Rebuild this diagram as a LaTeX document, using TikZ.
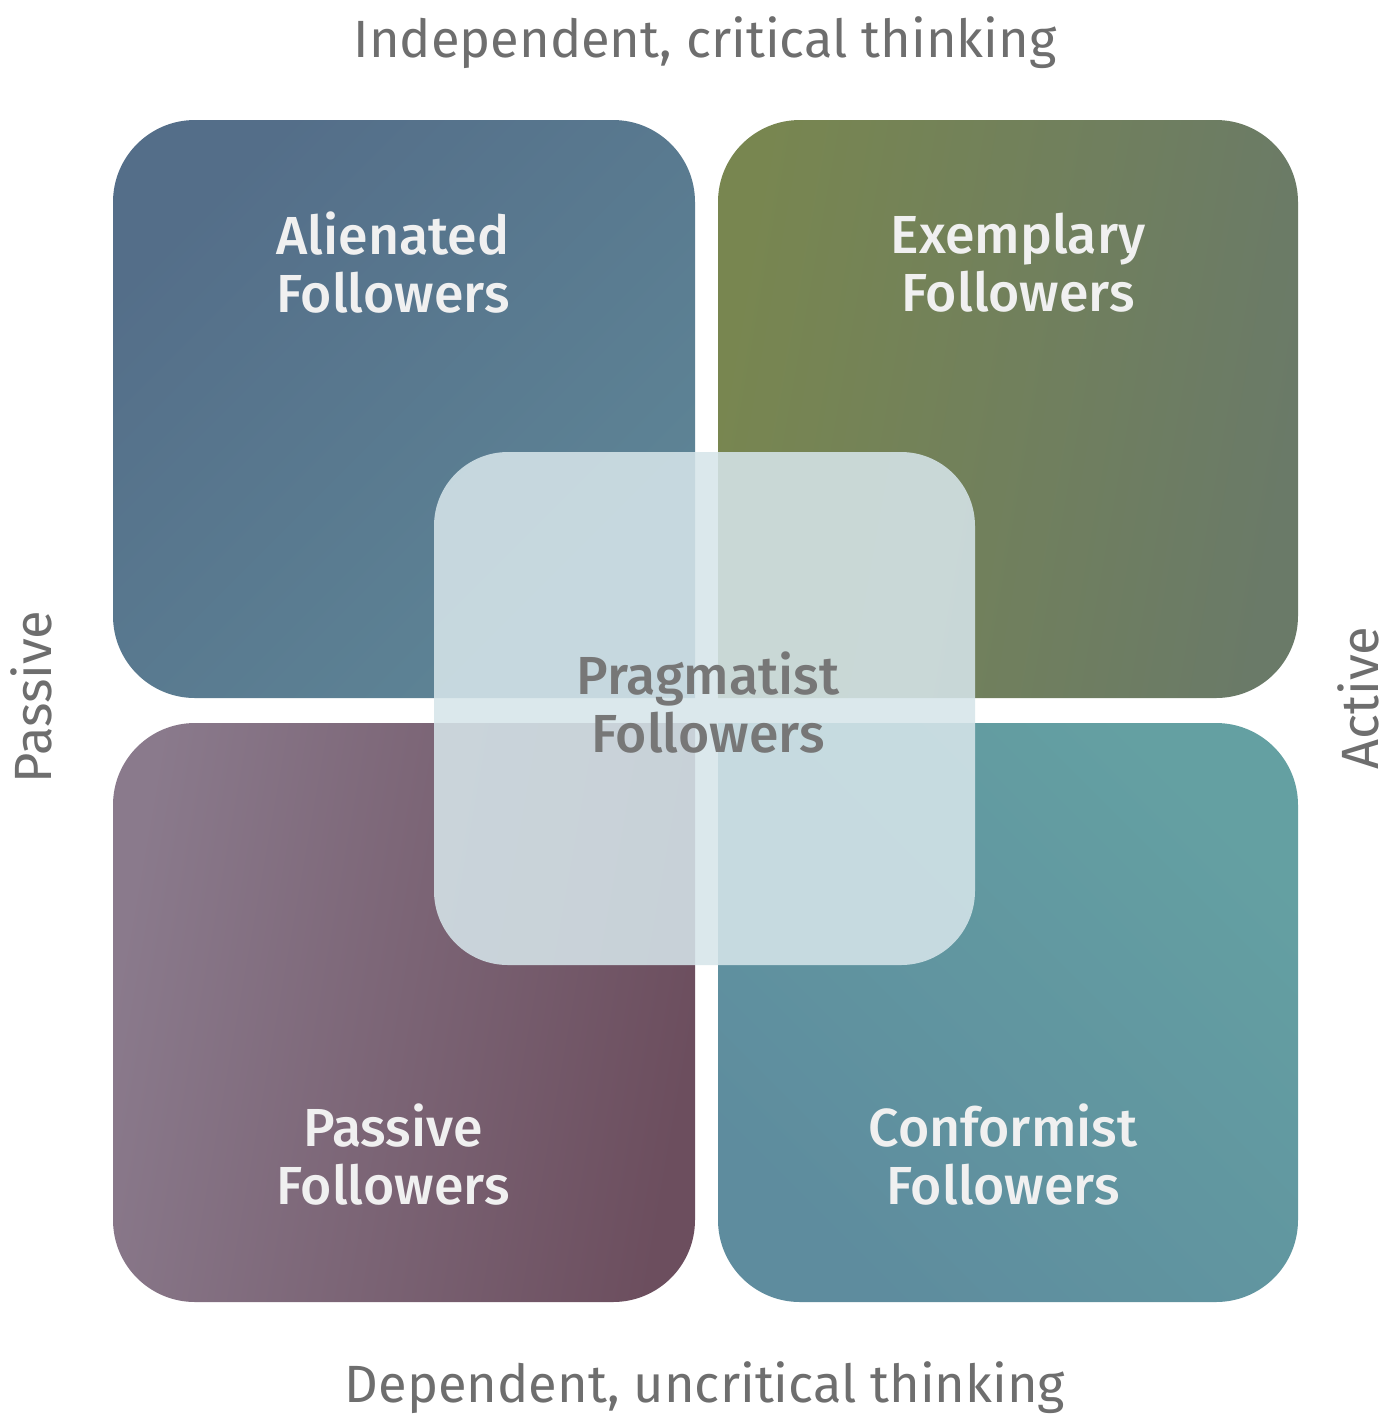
\documentclass[tikz,border=0pt]{standalone}
\usepackage{fontspec}
\setmainfont{Fira Sans}
\newfontfamily\medfont{Fira Sans Medium}
\definecolor{axisgray}{HTML}{6E6E6E}
\definecolor{labwhite}{HTML}{F0F0F0}
\definecolor{midgray}{HTML}{777777}
\definecolor{tlA}{RGB}{84,110,137}
\definecolor{tlB}{RGB}{94,133,150}
\definecolor{trA}{RGB}{120,134,80}
\definecolor{trB}{RGB}{106,122,104}
\definecolor{blA}{RGB}{138,122,140}
\definecolor{blB}{RGB}{108,78,94}
\definecolor{brA}{RGB}{94,140,158}
\definecolor{brB}{RGB}{100,160,162}
\definecolor{centerfill}{RGB}{214,229,234}
\tikzset{
  axislabel/.style={font=\fontsize{26.2}{30}\selectfont, text=axisgray, inner sep=0pt},
  quadlabel/.style={font=\medfont\fontsize{26.8}{29}\selectfont, text=labwhite, align=center, inner sep=0pt},
  midlabel/.style={font=\medfont\fontsize{26.8}{29}\selectfont, text=midgray, align=center, inner sep=0pt},
}
\begin{document}
\begin{tikzpicture}[x=0.5pt,y=-0.5pt]
\useasboundingbox (0,0) rectangle (1400,1426);
\fill[white] (0,0) rectangle (1400,1426);
% quadrants (inner corners, under the centre square, are square)
\shade[top color=tlA, bottom color=tlB, shading angle=45]
  [rounded corners=41pt] (113,120) rectangle (695,698)
  [sharp corners] (404,409) rectangle (695,698);
\shade[top color=trA, bottom color=trB, shading angle=80]
  [rounded corners=41pt] (718,120) rectangle (1298,698)
  [sharp corners] (718,409) rectangle (1008,698);
\shade[top color=blA, bottom color=blB, shading angle=80]
  [rounded corners=41pt] (113,723) rectangle (695,1302)
  [sharp corners] (404,723) rectangle (695,1012);
\shade[top color=brA, bottom color=brB, shading angle=135]
  [rounded corners=41pt] (718,723) rectangle (1298,1302)
  [sharp corners] (718,723) rectangle (1008,1012);
% centre square
\fill[rounded corners=37pt, fill=centerfill, fill opacity=0.87] (434,452) rectangle (975,965);
% labels
\node[quadlabel] (alien) at (393,263) {Alienated\\Followers};
\node[quadlabel] (exemp) at (1018,263) {Exemplary\\Followers};
\node[quadlabel] (pass) at (393,1155) {Passive\\Followers};
\node[quadlabel] (conf) at (1003,1155) {Conformist\\Followers};
\node[midlabel] (prag) at (708,703) {Pragmatist\\Followers};
\node[axislabel, anchor=base] (top) at (705,57) {Independent, critical thinking};
\node[axislabel, anchor=base] (bottom) at (705,1402) {Dependent, uncritical thinking};
\node[axislabel, anchor=base, rotate=90] (left) at (52,697) {Passive};
\node[axislabel, anchor=base, rotate=90] (right) at (1378,698) {Active};
\end{tikzpicture}
\end{document}
